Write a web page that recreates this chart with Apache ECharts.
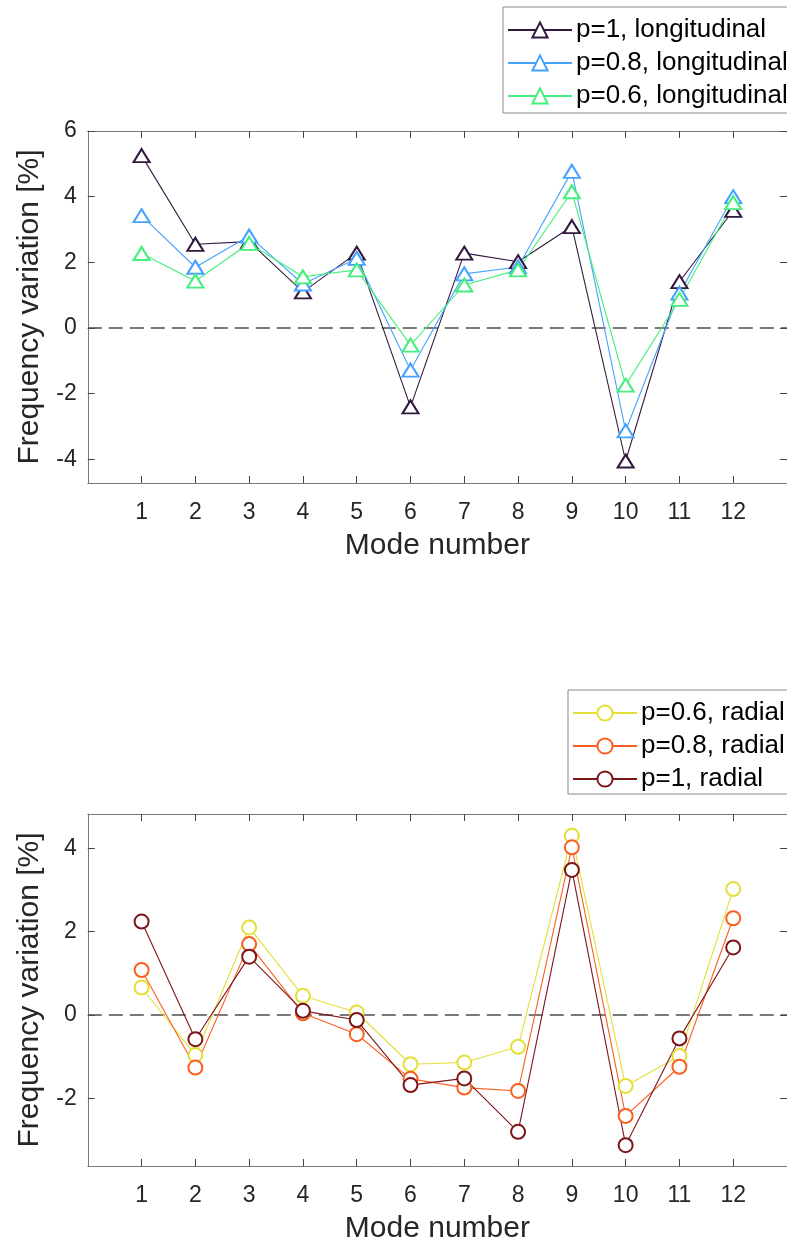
<!DOCTYPE html>
<html>
<head>
<meta charset="utf-8">
<script src="https://cdn.jsdelivr.net/npm/echarts@6/dist/echarts.min.js"></script>
<style>
html,body{margin:0;padding:0;background:#fff;}
#chart{width:787px;height:1252px;}
</style>
</head>
<body>
<div id="chart"></div>
<script>
// ---- data ----
var modes = [1,2,3,4,5,6,7,8,9,10,11,12];
var modeTicks = [1,2,3,4,5,6,7,8,9,10,11,12];
var topYTicks = [-4,-2,0,2,4,6];
var botYTicks = [-2,0,2,4];

var longP1  = [5.25, 2.55, 2.63, 1.10, 2.28, -2.40, 2.28, 2.02, 3.09, -4.05, 1.41, 3.58];
var longP08 = [3.42, 1.85, 2.80, 1.34, 2.12, -1.28, 1.65, 1.86, 4.77, -3.13, 1.06, 4.00];
var longP06 = [2.27, 1.43, 2.58, 1.56, 1.77, -0.52, 1.31, 1.77, 4.15, -1.74, 0.87, 3.82];

var radP06 = [0.66, -0.96, 2.10, 0.46, 0.06, -1.18, -1.14, -0.76, 4.30, -1.70, -0.98, 3.02];
var radP08 = [1.08, -1.26, 1.70, 0.04, -0.46, -1.53, -1.74, -1.82, 4.02, -2.42, -1.24, 2.32];
var radP1  = [2.24, -0.58, 1.40, 0.10, -0.12, -1.68, -1.52, -2.80, 3.48, -3.12, -0.56, 1.62];

var zeroLine = [[0,0],[13,0]];

function pairs(ys){ return modes.map(function(m,i){ return [m, ys[i]]; }); }

var FONT = 'Liberation Sans, Arial, Helvetica, sans-serif';
var TXT = '#262626';
var AX = '#7a7a7a';

function xAx(gi, bottom){
  return {
    type:'value', gridIndex:gi, min:0, max:13, position: bottom?'bottom':'top',
    name: bottom ? 'Mode number' : '', nameLocation:'middle', nameGap:48,
    nameTextStyle:{fontFamily:FONT, fontSize:30, color:TXT},
    axisLine:{show:true, onZero:false, lineStyle:{color:AX, width:1}},
    axisTick:{show:true, inside:true, length:7, lineStyle:{color:'#444'}, customValues: modeTicks},
    axisLabel:{show:bottom, margin:18, fontFamily:FONT, fontSize:23, color:TXT, customValues: modeTicks},
    splitLine:{show:false}
  };
}
function yAx(gi, left, mn, mx, ticks){
  return {
    type:'value', gridIndex:gi, min:mn, max:mx, position: left?'left':'right',
    name: left ? 'Frequency variation [%]' : '', nameLocation:'middle', nameGap:43, nameRotate:90,
    nameTextStyle:{fontFamily:FONT, fontSize:30, color:TXT},
    axisLine:{show:true, onZero:false, lineStyle:{color:AX, width:1}},
    axisTick:{show:true, inside:true, length:7, lineStyle:{color:'#444'}, customValues: ticks},
    axisLabel:{show:left, margin:11, fontFamily:FONT, fontSize:23, color:TXT, customValues: ticks},
    splitLine:{show:false}
  };
}

function lineSeries(name, ys, color, sym, size, xi, yi){
  return {
    type:'line', name:name, data:pairs(ys), xAxisIndex:xi, yAxisIndex:yi,
    symbol:sym, symbolSize:size, showSymbol:true,
    lineStyle:{color:color, width:1.1},
    itemStyle:{color:color, borderColor:color, borderWidth:1.1},
    emphasis:{disabled:true}, animation:false, z:3
  };
}
function dashSeries(xi, yi){
  return {
    type:'line', data:zeroLine, xAxisIndex:xi, yAxisIndex:yi, symbol:'none',
    lineStyle:{color:'#4d4d4d', width:1.5, type:[14,7], dashOffset:0},
    silent:true, animation:false, z:2
  };
}

var C_P1L = '#33193f', C_P08L = '#45a2ff', C_P06L = '#45ee7c';
var C_P06R = '#e4df37', C_P08R = '#fb5f1f', C_P1R = '#7c1518';

var legendCommon = {
  orient:'vertical', itemWidth:64, itemHeight:19, itemGap:7,
  borderColor:'#8a8a8a', borderWidth:1, backgroundColor:'#fff',
  textStyle:{fontFamily:FONT, fontSize:26, color:'#000', padding:[0,0,0,-1]},
  selectedMode:false
};

var option = {
  backgroundColor:'#fff',
  animation:false,
  grid:[
    {left:87.8, top:131, width:704.6, height:352},
    {left:87.8, top:814, width:704.6, height:352}
  ],
  xAxis:[ xAx(0,true), xAx(0,false), xAx(1,true), xAx(1,false) ],
  yAxis:[ yAx(0,true,-4.72,6,topYTicks), yAx(0,false,-4.72,6,topYTicks),
          yAx(1,true,-3.62,4.82,botYTicks), yAx(1,false,-3.62,4.82,botYTicks) ],
  legend:[
    Object.assign({}, legendCommon, {
      data:['p=1, longitudinal','p=0.8, longitudinal','p=0.6, longitudinal'],
      left:503, top:7, padding:[10,4,4,4]
    }),
    Object.assign({}, legendCommon, {
      data:['p=0.6, radial','p=0.8, radial','p=1, radial'],
      left:568, top:690, padding:[10,4,2,4]
    })
  ],
  series:[
    dashSeries(0,0),
    lineSeries('p=1, longitudinal', longP1, C_P1L, 'emptyTriangle', [16,13], 0, 0),
    lineSeries('p=0.8, longitudinal', longP08, C_P08L, 'emptyTriangle', [16,13], 0, 0),
    lineSeries('p=0.6, longitudinal', longP06, C_P06L, 'emptyTriangle', [16,13], 0, 0),
    dashSeries(2,2),
    lineSeries('p=0.6, radial', radP06, C_P06R, 'emptyCircle', 14, 2, 2),
    lineSeries('p=0.8, radial', radP08, C_P08R, 'emptyCircle', 14, 2, 2),
    lineSeries('p=1, radial', radP1, C_P1R, 'emptyCircle', 14, 2, 2)
  ]
};

var chart = echarts.init(document.getElementById('chart'), null, {renderer:'canvas'});
chart.setOption(option);
</script>
</body>
</html>
